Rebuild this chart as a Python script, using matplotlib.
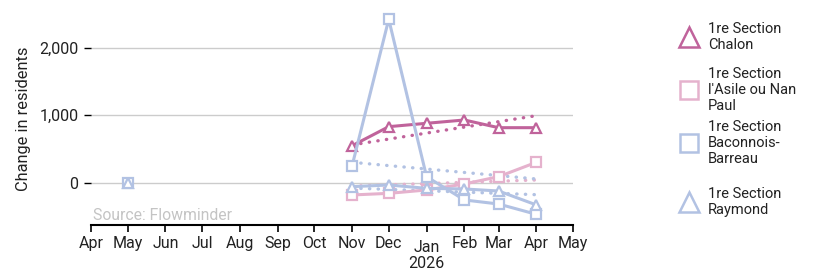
import numpy as np
import pandas as pd
import matplotlib
matplotlib.use("Agg")
import matplotlib.pyplot as plt
import matplotlib.transforms as mtransforms
from matplotlib.lines import Line2D

plt.rcParams['font.family'] = ['Roboto', 'DejaVu Sans']

# ---- data ----
months = pd.to_datetime(['2025-05-01', '2025-06-01', '2025-07-01', '2025-08-01',
                         '2025-09-01', '2025-10-01', '2025-11-01', '2025-12-01',
                         '2026-01-01', '2026-02-01', '2026-03-01', '2026-04-01'])
nan = np.nan
chalon    = [nan, nan, nan, nan, nan, nan, 548, 830, 880, 929, 815, 815]
asile     = [nan, nan, nan, nan, nan, nan, -182, -158, -108, -19, 89, 302]
baconnois = [0, nan, nan, nan, nan, nan, 252, 2421, 89, -256, -316, -469]
raymond   = [0, nan, nan, nan, nan, nan, -59, -34, -84, -93, -123, -330]

trend_dates = pd.to_datetime(['2025-11-01', '2026-04-01'])
chalon_trend    = [560, 993]
asile_trend     = [-50, 40]
baconnois_trend = [302, 55]
raymond_trend   = [-80, -178]

labels = ['1re Section\nChalon', "1re Section\nl'Asile ou Nan\nPaul",
          '1re Section\nBaconnois-\nBarreau', '1re Section\nRaymond']

C_DARK = '#c0639b'
C_PINK = '#e5b2cd'
C_BLUE = '#b2c2e3'

series = [(chalon, chalon_trend, C_DARK, '^'),
          (asile, asile_trend, C_PINK, 's'),
          (baconnois, baconnois_trend, C_BLUE, 's'),
          (raymond, raymond_trend, C_BLUE, '^')]

# ---- figure ----
fig = plt.figure(figsize=(8.32, 2.79), dpi=100)
ax = fig.add_axes([91/832, 1 - 225/279, (573-91)/832, (225-12)/279])

for vals, trend, col, mk in series:
    ax.plot(trend_dates, trend, color=col, lw=2.4, ls=(0, (0.1, 2.5)),
            dash_capstyle='round', zorder=2)
for vals, trend, col, mk in series:
    ax.plot(months, vals, color=col, lw=2.2, marker=mk, markersize=6.5,
            mfc='white', mec=col, mew=1.6, zorder=3)

ax.set_xlim(pd.Timestamp('2025-04-01'), pd.Timestamp('2026-05-01'))
ax.set_ylim(-627, 2529)

ticks = pd.date_range('2025-04-01', '2026-05-01', freq='MS')
ax.set_xticks(ticks)
ax.set_xticklabels([('Jan\n2026' if t.month == 1 else t.strftime('%b')) for t in ticks],
                   fontsize=11.5, color='#222222', linespacing=1.05)
ax.set_yticks([0, 1000, 2000])
ax.set_yticklabels(['0', '1,000', '2,000'], fontsize=11.5, color='#222222')
ax.tick_params(axis='x', length=5, width=1.2, color='black', pad=3)
ax.tick_params(axis='y', length=5, width=1.0, color='black', pad=4)

# "Jan 2026" sits a little lower than the other month labels
for lab in ax.get_xticklabels():
    if lab.get_text().startswith('Jan'):
        lab.set_transform(lab.get_transform() +
                          mtransforms.ScaledTranslation(0, -3/72, fig.dpi_scale_trans))

ax.grid(axis='y', color='#cccccc', lw=1)
ax.set_axisbelow(True)
for s in ['top', 'right', 'left']:
    ax.spines[s].set_visible(False)
ax.spines['bottom'].set_linewidth(1.5)

ax.set_ylabel('Change in residents', fontsize=11.8, labelpad=6, color='#222222')
ax.text(0.005, 0.01, 'Source: Flowminder', transform=ax.transAxes,
        fontsize=11.3, color='#c4c4c4', ha='left', va='bottom')

# ---- legend (drawn manually) ----
leg_cols = [C_DARK, C_PINK, C_BLUE, C_BLUE]
leg_marks = ['^', 's', 's', '^']
leg_y = [37, 90, 143, 202]
for lab, col, mk, yp in zip(labels, leg_cols, leg_marks, leg_y):
    yf = 1 - yp / 279
    fig.add_artist(Line2D([689/832], [yf], transform=fig.transFigure, marker=mk,
                          markersize=14 if mk == '^' else 13, mfc='none',
                          mec=col, mew=1.8, ls='none'))
    fig.text(708/832, yf, lab, fontsize=10.5, va='center', ha='left',
             linespacing=1.2, color='#222222')

fig.savefig('out.png', dpi=100)
